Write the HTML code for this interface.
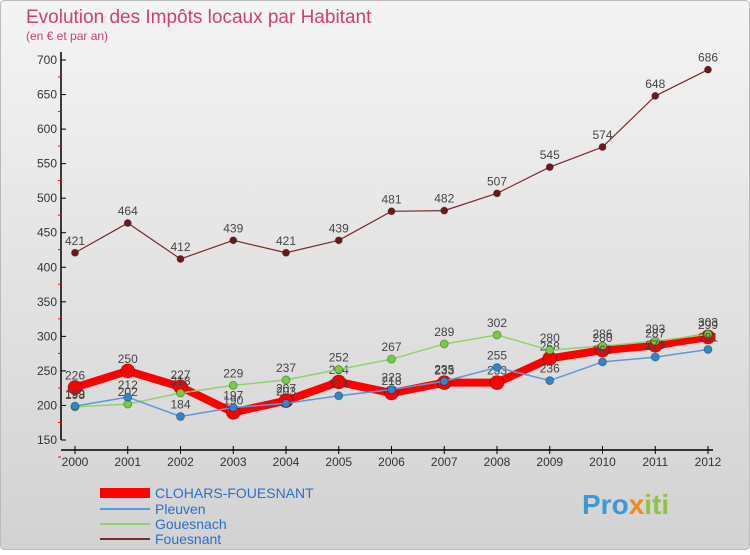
<!DOCTYPE html>
<html><head><meta charset="utf-8"><style>
body{margin:0;width:750px;height:550px;overflow:hidden;font-family:"Liberation Sans",sans-serif}
</style></head><body>
<svg width="750" height="550" xmlns="http://www.w3.org/2000/svg">
<defs><linearGradient id="bg" x1="0" y1="0" x2="0" y2="1"><stop offset="0" stop-color="#f4f4f4"/><stop offset="1" stop-color="#d2d2d2"/></linearGradient></defs>
<rect x="0.5" y="0.5" width="749" height="549" rx="4" fill="url(#bg)" stroke="#bbb"/>
<text x="26" y="23" font-size="19" fill="#d0406e">Evolution des Impôts locaux par Habitant</text>
<text x="26" y="40" font-size="12" fill="#d0406e">(en € et par an)</text>
<g id="axes"></g><g id="series"></g>
<g>
<rect x="100" y="488" width="50" height="10" fill="#f00"/>
<text x="155" y="498" font-size="14" fill="#2a6fc9">CLOHARS-FOUESNANT</text>
<line x1="100" y1="509" x2="150" y2="509" stroke="#5b9bd5" stroke-width="2"/>
<text x="155" y="514" font-size="14" fill="#2a6fc9">Pleuven</text>
<line x1="100" y1="524" x2="150" y2="524" stroke="#8fd36a" stroke-width="2"/>
<text x="155" y="529" font-size="14" fill="#2a6fc9">Gouesnach</text>
<line x1="100" y1="539" x2="150" y2="539" stroke="#7a2a2a" stroke-width="2"/>
<text x="155" y="544" font-size="14" fill="#2a6fc9">Fouesnant</text>
</g>
<text x="582" y="514" font-size="28" font-weight="bold" fill="#3a9ad9">Pro<tspan fill="#f08a1c">x</tspan><tspan fill="#8cc63f">iti</tspan></text>
</svg>
<script>
const years=[2000,2001,2002,2003,2004,2005,2006,2007,2008,2009,2010,2011,2012];
const yTicks=[150,200,250,300,350,400,450,500,550,600,650,700];
const clohars=[226,250,227,190,207,234,218,233,233,268,280,287,299];
const pleuven=[199,212,184,197,203,214,223,235,255,236,263,270,281];
const gouesnach=[198,202,218,229,237,252,267,289,302,280,286,293,303];
const fouesnant=[421,464,412,439,421,439,481,482,507,545,574,648,686];
const NS="http://www.w3.org/2000/svg";
const X0=75,X1=708,Y0=440,Y1=60,VMIN=150,VMAX=700;
const xs=i=>X0+(X1-X0)*i/(years.length-1);
const ys=v=>Y0-(v-VMIN)*(Y0-Y1)/(VMAX-VMIN);
function mk(tag,at,parent){const e=document.createElementNS(NS,tag);for(const k in at)e.setAttribute(k,at[k]);parent.appendChild(e);return e;}
const ax=document.getElementById('axes');
let yl=mk('line',{x1:61,y1:Y1-8,x2:61,y2:Y0,stroke:'#000','stroke-width':1.5},ax);


let xl=mk('line',{x1:61,y1:450,x2:X1+5,y2:450,stroke:'#000','stroke-width':1.5},ax);


yTicks.forEach(v=>{const y=ys(v);
mk('line',{x1:61,y1:y,x2:66,y2:y,stroke:'#000'},ax);
mk('line',{x1:58,y1:y+17,x2:61,y2:y+17,stroke:'#f00'},ax);
const t=mk('text',{x:57,y:y+4,'font-size':12,'text-anchor':'end',fill:'#333'},ax);t.textContent=v;

});
years.forEach((yr,i)=>{const x=xs(i);
mk('line',{x1:x,y1:446,x2:x,y2:454,stroke:'#000'},ax);
const t=mk('text',{x:x,y:466,'font-size':12,'text-anchor':'middle',fill:'#333'},ax);t.textContent=yr;

});
const sg=document.getElementById('series');
function series(name,data,color,w,r,dot){
const g=mk('g',{},sg);


mk('polyline',{points:data.map((v,i)=>xs(i)+','+ys(v)).join(' '),fill:'none',stroke:color,'stroke-width':w,'stroke-linejoin':'round'},g);
data.forEach((v,i)=>{const c=mk('circle',{cx:xs(i),cy:ys(v),r:r,fill:dot,stroke:'rgba(0,0,0,0.3)'},g);


const t=mk('text',{x:xs(i),y:ys(v)-8,'font-size':12,'text-anchor':'middle',fill:'#444'},g);t.textContent=v;

});}
series('fouesnant',fouesnant,'#7a2a2a',1.2,3.5,'#6b1a1a');
series('clohars',clohars,'#f00',8,7,'#f00');
series('gouesnach',gouesnach,'#8fd36a',1.5,4,'#77cc44');
series('pleuven',pleuven,'#5b9bd5',1.5,4,'#2f86c8');
</script>
</body></html>
